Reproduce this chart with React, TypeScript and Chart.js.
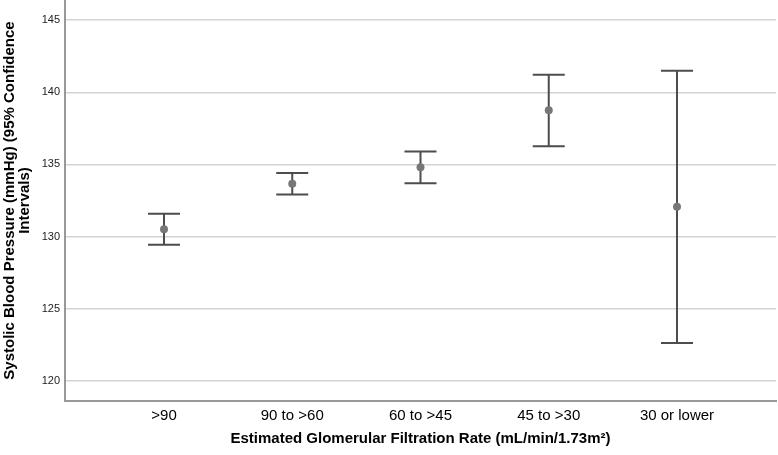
import React, { useEffect, useRef } from "react";
import { Chart, registerables } from "chart.js";

Chart.register(...registerables);

const categories = [">90", "90 to >60", "60 to >45", "45 to >30", "30 or lower"];
const means = [130.5, 133.66, 134.81, 138.75, 132.06];
const lowerCI = [129.43, 132.92, 133.7, 136.26, 122.62];
const upperCI = [131.58, 134.4, 135.9, 141.22, 141.5];
const yTicks = [120, 125, 130, 135, 140, 145];

const FONT = "'Liberation Sans', Arial, sans-serif";

const errorBarPlugin = {
  id: "errorBars",
  beforeDatasetsDraw(chart: any) {
    const { ctx, scales } = chart;
    const xs = scales.x;
    const ys = scales.y;
    ctx.save();
    ctx.strokeStyle = "#4d4d4d";
    ctx.lineWidth = 2;
    ctx.lineCap = "butt";
    const half = 16;
    categories.forEach((_, i) => {
      const x = xs.getPixelForValue(i + 1);
      const yl = ys.getPixelForValue(lowerCI[i]);
      const yu = ys.getPixelForValue(upperCI[i]);
      ctx.beginPath();
      ctx.moveTo(x, yl);
      ctx.lineTo(x, yu);
      ctx.moveTo(x - half, yl);
      ctx.lineTo(x + half, yl);
      ctx.moveTo(x - half, yu);
      ctx.lineTo(x + half, yu);
      ctx.stroke();
    });
    ctx.restore();
  },
};

export default function App() {
  const ref = useRef<HTMLCanvasElement | null>(null);
  useEffect(() => {
    if (!ref.current) return;
    const chart = new Chart(ref.current, {
      type: "scatter",
      data: {
        datasets: [
          {
            data: means.map((m, i) => ({ x: i + 1, y: m })),
            pointRadius: 4,
            pointBackgroundColor: "#777777",
            pointBorderColor: "#777777",
            pointBorderWidth: 0,
            showLine: false,
          },
        ],
      },
      options: {
        animation: false,
        responsive: true,
        maintainAspectRatio: false,
        layout: { autoPadding: false, padding: { left: 0, right: 2, top: 0, bottom: 0 } },
        plugins: {
          legend: { display: false },
          tooltip: { enabled: false },
        },
        scales: {
          x: {
            type: "linear",
            min: 0.228,
            max: 5.772,
            afterBuildTicks: (scale: any) => {
              scale.ticks = categories.map((_, i) => ({ value: i + 1 }));
            },
            afterFit: (scale: any) => {
              scale.height = 54;
              scale.paddingLeft = 0;
              scale.paddingRight = 0;
            },
            ticks: {
              autoSkip: false,
              maxRotation: 0,
              padding: 6,
              color: "#000000",
              font: { family: FONT, size: 15 },
              callback: (v: any) => categories[Math.round(Number(v)) - 1] ?? "",
            },
            grid: { display: false, drawTicks: false },
            border: { display: true, color: "#999999", width: 2 },
            title: {
              display: true,
              text: "Estimated Glomerular Filtration Rate (mL/min/1.73m²)",
              color: "#000000",
              font: { family: FONT, size: 15, weight: "bold" },
              padding: { top: 0, bottom: 7 },
            },
          },
          y: {
            type: "linear",
            min: 118.6,
            max: 146.4,
            afterBuildTicks: (scale: any) => {
              scale.ticks = yTicks.map((v) => ({ value: v }));
            },
            afterFit: (scale: any) => {
              scale.width = 65;
              scale.paddingTop = 0;
              scale.paddingBottom = 0;
            },
            ticks: {
              padding: 5,
              color: "#222222",
              font: { family: FONT, size: 11 },
              callback: (v: any) => String(v),
            },
            grid: { color: "#d4d4d4", lineWidth: 1.5, drawTicks: false },
            border: { display: true, color: "#999999", width: 2 },
            title: {
              display: true,
              text: ["Systolic Blood Pressure (mmHg) (95% Confidence", "Intervals)"],
              color: "#000000",
              font: { family: FONT, size: 15, weight: "bold", lineHeight: 1.05 },
              padding: { top: 1.5, bottom: 0 },
            },
          },
        },
      },
      plugins: [errorBarPlugin],
    } as any);
    return () => chart.destroy();
  }, []);
  return (
    <div style={{ position: "fixed", left: 0, top: 0, width: 778, height: 455, background: "#ffffff" }}>
      <canvas ref={ref} />
    </div>
  );
}
